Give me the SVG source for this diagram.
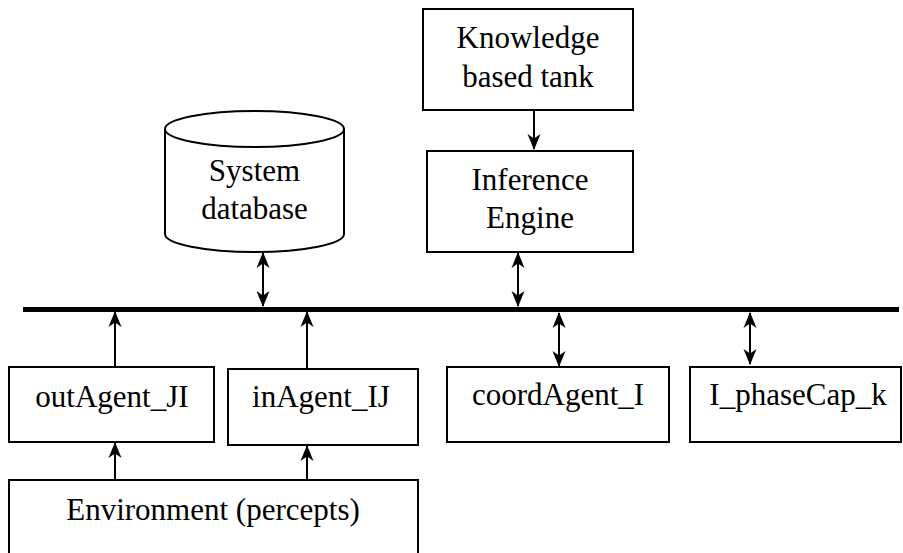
<svg xmlns="http://www.w3.org/2000/svg" width="903" height="553" viewBox="0 0 903 553" font-family="Liberation Serif, Times New Roman, serif">
<style>
.box{fill:#fff;stroke:#000;stroke-width:2}
.t{font-size:31px;fill:#000;text-anchor:middle}
.c{stroke:#000;stroke-width:2;fill:none}
</style>
<defs>
<marker id="ah" viewBox="0 0 16 16" refX="15" refY="8" markerWidth="16" markerHeight="16" markerUnits="userSpaceOnUse" orient="auto-start-reverse">
<path d="M0,1.5 L16,8 L0,14.5 L4.5,8 Z" fill="#000"/>
</marker>
</defs>
<rect width="903" height="553" fill="#fff"/>
<g id="connectors">
<line x1="23" y1="309.5" x2="899" y2="309.5" stroke="#000" stroke-width="5"/>
<line class="c" x1="534" y1="110" x2="534" y2="149" marker-end="url(#ah)"/>
<line class="c" x1="263" y1="253" x2="263" y2="306" marker-start="url(#ah)" marker-end="url(#ah)"/>
<line class="c" x1="518" y1="253" x2="518" y2="306" marker-start="url(#ah)" marker-end="url(#ah)"/>
<line class="c" x1="115" y1="367" x2="115" y2="312" marker-end="url(#ah)"/>
<line class="c" x1="307" y1="369" x2="307" y2="312" marker-end="url(#ah)"/>
<line class="c" x1="559" y1="313" x2="559" y2="366" marker-start="url(#ah)" marker-end="url(#ah)"/>
<line class="c" x1="750" y1="313" x2="750" y2="364" marker-start="url(#ah)" marker-end="url(#ah)"/>
<line class="c" x1="115" y1="480" x2="115" y2="443" marker-end="url(#ah)"/>
<line class="c" x1="307" y1="480" x2="307" y2="446" marker-end="url(#ah)"/>
</g>
<g id="knowledge">
<rect class="box" x="423" y="9" width="210" height="101"/>
<text class="t" x="528" y="48">Knowledge</text>
<text class="t" x="528" y="87">based tank</text>
</g>
<g id="inference">
<rect class="box" x="427" y="151" width="206" height="101"/>
<text class="t" x="530" y="190">Inference</text>
<text class="t" x="530" y="228">Engine</text>
</g>
<g id="database">
<path class="box" d="M165,129 L165,234 A89.5,18 0 0 0 344,234 L344,129"/>
<ellipse class="box" cx="254.5" cy="129" rx="89.5" ry="18"/>
<text class="t" x="254.5" y="181">System</text>
<text class="t" x="254.5" y="219">database</text>
</g>
<g id="outAgent">
<rect class="box" x="9" y="367" width="205" height="75"/>
<text class="t" x="112" y="407">outAgent_JI</text>
</g>
<g id="inAgent">
<rect class="box" x="228" y="369" width="190" height="76"/>
<text class="t" x="321" y="407">inAgent_IJ</text>
</g>
<g id="coordAgent">
<rect class="box" x="447" y="367" width="222" height="75"/>
<text class="t" x="558" y="405">coordAgent_I</text>
</g>
<g id="phaseCap">
<rect class="box" x="690" y="367" width="211" height="75"/>
<text class="t" x="798" y="405">I_phaseCap_k</text>
</g>
<g id="environment">
<path class="box" d="M9,555 L9,480 L418,480 L418,555"/>
<text class="t" x="213" y="520">Environment (percepts)</text>
</g>
</svg>
